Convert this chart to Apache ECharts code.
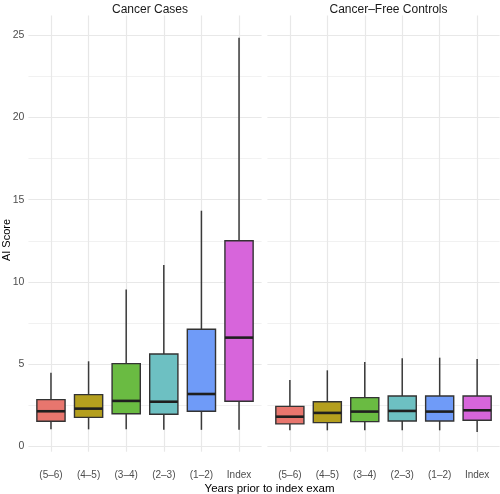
<!DOCTYPE html>
<html>
<head>
<meta charset="utf-8">
<script src="https://cdn.jsdelivr.net/npm/echarts@6/dist/echarts.min.js"></script>
<style>
  html, body { margin: 0; padding: 0; background: #fff; }
  #chart { width: 500px; height: 494px; }
</style>
</head>
<body>
<div id="chart"></div>
<script>
/* categories on the x axis */
var categories = ['(5\u20136)', '(4\u20135)', '(3\u20134)', '(2\u20133)', '(1\u20132)', 'Index'];

/* box stats: [low whisker, Q1, median, Q3, high whisker] */
var casesStats = [
    [1.03, 1.52, 2.13, 2.84, 4.48],
    [1.03, 1.76, 2.29, 3.14, 5.17],
    [1.03, 1.98, 2.76, 5.03, 9.53],
    [1.00, 1.95, 2.71, 5.61, 11.03],
    [1.00, 2.13, 3.18, 7.12, 14.33],
    [1.00, 2.74, 6.61, 12.50, 24.86]
];
var controlStats = [
    [0.97, 1.36, 1.80, 2.43, 4.03],
    [0.97, 1.44, 2.03, 2.71, 4.62],
    [0.97, 1.50, 2.11, 2.96, 5.13],
    [0.97, 1.54, 2.15, 3.06, 5.35],
    [0.97, 1.54, 2.11, 3.06, 5.39],
    [0.87, 1.58, 2.19, 3.06, 5.31]
];

/* tick values */
var yMajor = [0, 5, 10, 15, 20, 25];
var yMinor = [2.5, 7.5, 12.5, 17.5, 22.5];
var xTicks = [1, 2, 3, 4, 5, 6];

var fills = ['#E8766E', '#B49F1E', '#6ABB42', '#6DC0C2', '#6F9BF8', '#D765DB'];
var FONT = '"Liberation Sans", Arial, sans-serif';

var dom = document.getElementById('chart');
var myChart = echarts.init(dom, null, {renderer: 'canvas'});

/* 把统计量变成自定义系列的数据 */
function toData(stats) {
    return stats.map(function (s, i) {
        return [i + 1, s[0], s[1], s[2], s[3], s[4]];
    });
}

/* 画一个箱子 (ggplot 风格, 须线没有横帽) */
function renderBox(params, api) {
    var x = api.value(0);
    var pLow = api.coord([x, api.value(1)]);
    var pQ1 = api.coord([x, api.value(2)]);
    var pMed = api.coord([x, api.value(3)]);
    var pQ3 = api.coord([x, api.value(4)]);
    var pHigh = api.coord([x, api.value(5)]);
    var w = api.size([0.75, 0])[0];
    var cx = pMed[0];
    var lineStyle = {stroke: '#3a3a3a', lineWidth: 1.5};
    return {
        type: 'group',
        children: [
            {type: 'line', shape: {x1: cx, y1: pLow[1], x2: cx, y2: pQ1[1]}, style: lineStyle},
            {type: 'line', shape: {x1: cx, y1: pQ3[1], x2: cx, y2: pHigh[1]}, style: lineStyle},
            {
                type: 'rect',
                shape: {x: cx - w / 2, y: pQ3[1], width: w, height: pQ1[1] - pQ3[1]},
                style: {fill: fills[params.dataIndex], stroke: '#333333', lineWidth: 1.4}
            },
            {
                type: 'line',
                shape: {x1: cx - w / 2, y1: pMed[1], x2: cx + w / 2, y2: pMed[1]},
                style: {stroke: '#1f1f1f', lineWidth: 2.6}
            }
        ]
    };
}

var yMin = -0.33, yMax = 26.2;
var gridTop = 15.6, gridBottom = 42.3;

function yAxisMajor(gridIndex, showLabels) {
    return {
        type: 'value', gridIndex: gridIndex, min: yMin, max: yMax,
        axisLine: {show: false},
        axisTick: {show: false, customValues: yMajor},
        axisLabel: {
            show: showLabels, customValues: yMajor, margin: 4,
            color: '#4D4D4D', fontSize: 10.5, fontFamily: FONT
        },
        splitLine: {show: true, lineStyle: {color: '#E8E8E8', width: 1.2}}
    };
}
function yAxisMinor(gridIndex) {
    return {
        type: 'value', gridIndex: gridIndex, min: yMin, max: yMax, position: 'left',
        axisLine: {show: false},
        axisTick: {show: false, customValues: yMinor},
        axisLabel: {show: false},
        splitLine: {show: true, lineStyle: {color: '#EFEFEF', width: 0.9}}
    };
}
function xAxisPanel(gridIndex) {
    return {
        type: 'value', gridIndex: gridIndex, min: 0.4, max: 6.6,
        axisLine: {show: false},
        axisTick: {show: false, customValues: xTicks},
        axisLabel: {
            customValues: xTicks, margin: 19,
            color: '#4D4D4D', fontSize: 10, fontFamily: FONT,
            formatter: function (v) { return categories[Math.round(v) - 1]; }
        },
        splitLine: {show: true, lineStyle: {color: '#E8E8E8', width: 1.2}}
    };
}

var option = {
    animation: false,
    backgroundColor: '#ffffff',
    title: [
        {text: 'Cancer Cases', left: 145, top: -1, textAlign: 'center',
            textStyle: {fontSize: 12, fontWeight: 'normal', color: '#1A1A1A', fontFamily: FONT}},
        {text: 'Cancer\u2013Free Controls', left: 383.5, top: -1, textAlign: 'center',
            textStyle: {fontSize: 12, fontWeight: 'normal', color: '#1A1A1A', fontFamily: FONT}},
        {text: 'Years prior to index exam', left: 264.5, top: 478, textAlign: 'center',
            textStyle: {fontSize: 11.5, fontWeight: 'normal', color: '#000', fontFamily: FONT}}
    ],
    /* y 轴标题, 旋转的文字 */
    graphic: [{
        type: 'text', x: 7, y: 240, rotation: Math.PI / 2,
        style: {
            text: 'AI Score', fill: '#000', font: '11px ' + FONT,
            align: 'center', verticalAlign: 'middle'
        }
    }],
    grid: [
        {left: 28.4, width: 233.2, top: gridTop, bottom: gridBottom},
        {left: 267.4, width: 232.2, top: gridTop, bottom: gridBottom}
    ],
    xAxis: [xAxisPanel(0), xAxisPanel(1)],
    yAxis: [yAxisMajor(0, true), yAxisMinor(0), yAxisMajor(1, false), yAxisMinor(1)],
    series: [
        {
            name: 'Cancer Cases', type: 'custom', xAxisIndex: 0, yAxisIndex: 0,
            renderItem: renderBox, data: toData(casesStats),
            encode: {x: 0, y: [1, 2, 3, 4, 5]}
        },
        {
            name: 'Cancer-Free Controls', type: 'custom', xAxisIndex: 1, yAxisIndex: 2,
            renderItem: renderBox, data: toData(controlStats),
            encode: {x: 0, y: [1, 2, 3, 4, 5]}
        }
    ]
};

if (option && typeof option === "object") {
    myChart.setOption(option, true);
}
</script>
</body>
</html>
